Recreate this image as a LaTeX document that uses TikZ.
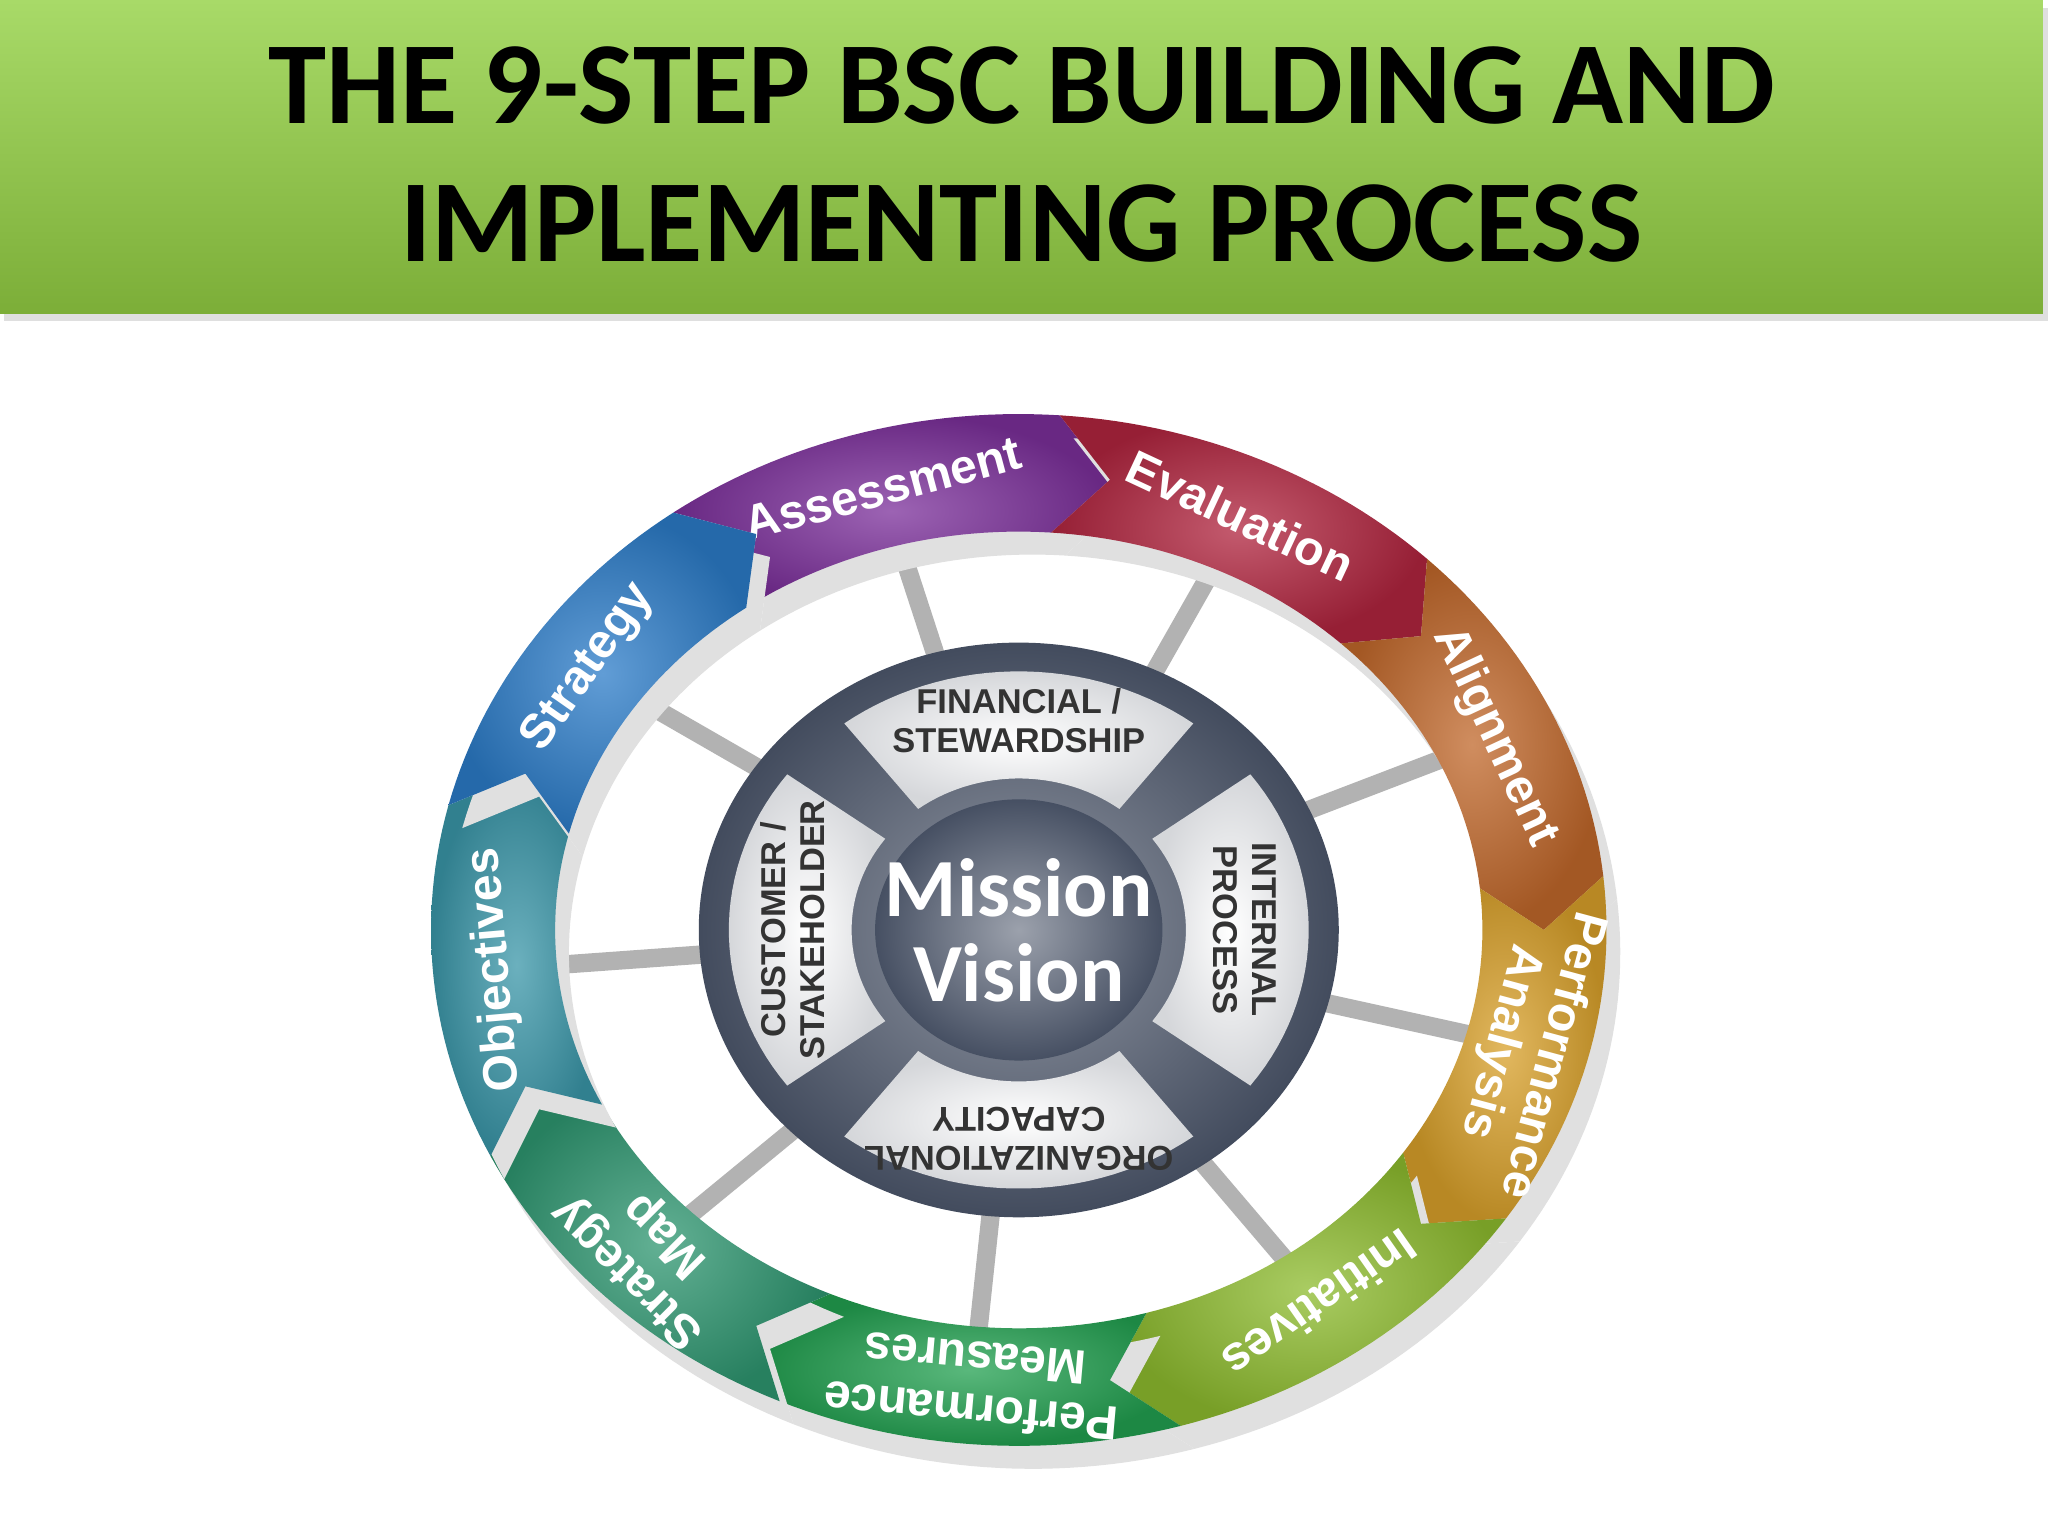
\documentclass[tikz,border=0pt]{standalone}
\usepackage{fontspec}
\setmainfont{Liberation Sans}
\newfontfamily\titlefont{Carlito}
\usetikzlibrary{shadows}
\definecolor{cA}{HTML}{7B2F9A}
\definecolor{cB}{HTML}{B0243E}
\definecolor{cC}{HTML}{C0672A}
\definecolor{cD}{HTML}{D8A02A}
\definecolor{cE}{HTML}{8DBB2E}
\definecolor{cF}{HTML}{22A050}
\definecolor{cG}{HTML}{2E9670}
\definecolor{cH}{HTML}{3A96A8}
\definecolor{cI}{HTML}{2C7CC8}
\definecolor{bantop}{HTML}{A8DA68}
\definecolor{banbot}{HTML}{7CAE38}
\definecolor{slate}{HTML}{4A5468}
\definecolor{quad}{HTML}{E4E6EA}
\tikzset{
  seglabel/.style={text=white,font=\bfseries\fontsize{10.5}{11.5}\selectfont,align=center},
  quadlabel/.style={text=black!80,font=\bfseries\fontsize{7.5}{8.5}\selectfont,align=center},
  spoke/.style={line width=4pt,draw=gray!60},
}
\begin{document}
\begin{tikzpicture}[x=0.01cm,y=0.01cm]
\useasboundingbox (0,0) rectangle (1568,-1176);
\fill[white] (0,0) rectangle (1568,-1176);
% banner
\fill[gray!25] (3,-6) rectangle (1568,-246);
\shade[top color=bantop,bottom color=banbot] (0,0) rectangle (1564,-240);
\node (title) at (782,-126) {\titlefont\bfseries\fontsize{25.5}{30}\selectfont\begin{tabular}{c}THE 9-STEP BSC BUILDING AND\\IMPLEMENTING PROCESS\end{tabular}};
% wheel
\def\cx{780}\def\cy{-712}
% spokes
\foreach \a in {105,65,25,-15,-55,-95,-135,-175,145}{
  \draw[spoke] ({\cx+230*cos(\a)},{\cy+205*sin(\a)}) -- ({\cx+370*cos(\a)},{\cy+320*sin(\a)});
}
% segments
\foreach \a/\c/\t in {105/cA/{Assessment},65/cB/{Evaluation},25/cC/{Alignment},-15/cD/{Performance\\Analysis},-55/cE/{Initiatives},-95/cF/{Performance\\Measures},-135/cG/{Strategy\\Map},-175/cH/{Objectives},145/cI/{Strategy}}{
  \pgfmathsetmacro{\s}{\a+21}\pgfmathsetmacro{\e}{\a-19}
  \pgfmathsetmacro{\tp}{\e-6}\pgfmathsetmacro{\np}{\s-6}
  \fill[black!12,xshift=3,yshift=-5] plot[domain=\s:\e,samples=30] ({\cx+450*cos(\x)},{\cy+395*sin(\x)})
     -- ({\cx+402*cos(\tp)},{\cy+350*sin(\tp)})
     -- plot[domain=\e:\s,samples=30] ({\cx+355*cos(\x)},{\cy+305*sin(\x)})
     -- ({\cx+402*cos(\np)},{\cy+350*sin(\np)}) -- cycle;
  \shade[inner color=\c!75!white,outer color=\c!85!black] plot[domain=\s:\e,samples=30] ({\cx+450*cos(\x)},{\cy+395*sin(\x)})
     -- ({\cx+402*cos(\tp)},{\cy+350*sin(\tp)})
     -- plot[domain=\e:\s,samples=30] ({\cx+355*cos(\x)},{\cy+305*sin(\x)})
     -- ({\cx+402*cos(\np)},{\cy+350*sin(\np)}) -- cycle;
  \node[seglabel,rotate=\a-90] at ({\cx+402*cos(\a)},{\cy+350*sin(\a)}) {\t};
}
% inner disk
\shade[inner color=slate!60,outer color=slate!90!black] (\cx,\cy) ellipse [x radius=245,y radius=220];
\foreach \a in {90,0,-90,180}{
  \pgfmathsetmacro{\s}{\a+37}\pgfmathsetmacro{\e}{\a-37}
  \shade[inner color=white,outer color=quad!85!gray] plot[domain=\s:\e,samples=30] ({\cx+222*cos(\x)},{\cy+198*sin(\x)})
    -- plot[domain=\e:\s,samples=30] ({\cx+128*cos(\x)},{\cy+116*sin(\x)}) -- cycle;
}
\shade[inner color=slate!55,outer color=slate!95!black] (\cx,\cy) ellipse [x radius=110,y radius=100];
\node[text=white,font=\titlefont\bfseries\fontsize{18}{18.5}\selectfont,align=center] (mv) at (\cx,\cy) {Mission\\Vision};
\node[quadlabel] (fin) at (\cx,{\cy+160}) {FINANCIAL /\\STEWARDSHIP};
\node[quadlabel,rotate=-90] (int) at ({\cx+173},\cy) {INTERNAL\\PROCESS};
\node[quadlabel,rotate=180] (org) at (\cx,{\cy-160}) {ORGANIZATIONAL\\CAPACITY};
\node[quadlabel,rotate=90] (cus) at ({\cx-173},\cy) {CUSTOMER /\\STAKEHOLDER};
\end{tikzpicture}
\end{document}
